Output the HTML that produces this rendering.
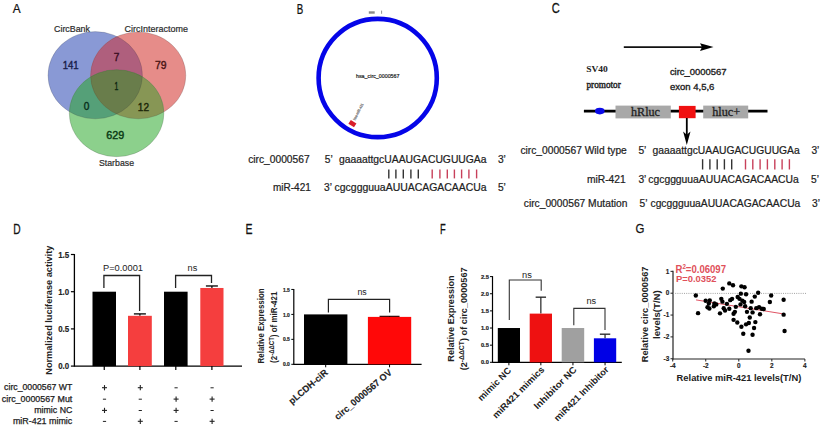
<!DOCTYPE html><html><head><meta charset="utf-8"><style>html,body{margin:0;padding:0;background:#fff;width:821px;height:430px;overflow:hidden}svg{display:block}</style></head><body>
<svg width="821" height="430" viewBox="0 0 821 430">
<rect width="821" height="430" fill="#fff"/>
<text x="0" y="0" font-size="13.663" fill="#111" font-weight="normal" font-family='"Liberation Sans", sans-serif' transform="translate(12.800 13.300) scale(0.8669 1)" stroke="#111" stroke-width="0.25">A</text>
<text x="0" y="0" font-size="13.808" fill="#111" font-weight="normal" font-family='"Liberation Sans", sans-serif' transform="translate(296.800 13.500) scale(0.7058 1)" stroke="#111" stroke-width="0.25">B</text>
<text x="0" y="0" font-size="13.842" fill="#111" font-weight="normal" font-family='"Liberation Sans", sans-serif' transform="translate(551.800 13.362) scale(0.8005 1)" stroke="#111" stroke-width="0.25">C</text>
<text x="0" y="0" font-size="13.808" fill="#111" font-weight="normal" font-family='"Liberation Sans", sans-serif' transform="translate(13.300 233.700) scale(0.7423 1)" stroke="#111" stroke-width="0.25">D</text>
<text x="0" y="0" font-size="14.244" fill="#111" font-weight="normal" font-family='"Liberation Sans", sans-serif' transform="translate(245.600 234.000) scale(0.7368 1)" stroke="#111" stroke-width="0.25">E</text>
<text x="0" y="0" font-size="13.808" fill="#111" font-weight="normal" font-family='"Liberation Sans", sans-serif' transform="translate(440.000 233.700) scale(0.6756 1)" stroke="#111" stroke-width="0.25">F</text>
<text x="0" y="0" font-size="13.418" fill="#111" font-weight="normal" font-family='"Liberation Sans", sans-serif' transform="translate(635.400 233.266) scale(0.8526 1)" stroke="#111" stroke-width="0.25">G</text>
<defs>
<clipPath id="cB"><ellipse cx="95.2" cy="75.2" rx="47.2" ry="43.6"/></clipPath>
<clipPath id="cR"><ellipse cx="138.2" cy="75.4" rx="47.6" ry="43.4"/></clipPath>
<clipPath id="cRB" clip-path="url(#cB)"><ellipse cx="138.2" cy="75.4" rx="47.6" ry="43.4"/></clipPath>
</defs>
<ellipse cx="95.2" cy="75.2" rx="47.2" ry="43.6" fill="rgb(137,153,213)" stroke="none" stroke-width="0"/>
<ellipse cx="138.2" cy="75.4" rx="47.6" ry="43.4" fill="rgb(230,140,137)" stroke="none" stroke-width="0"/>
<ellipse cx="116.6" cy="113.2" rx="47.3" ry="43.5" fill="rgb(140,208,140)" stroke="none" stroke-width="0"/>
<ellipse cx="138.2" cy="75.4" rx="47.6" ry="43.4" fill="rgb(175,95,125)" stroke="none" stroke-width="0" clip-path="url(#cB)"/>
<ellipse cx="116.6" cy="113.2" rx="47.3" ry="43.5" fill="rgb(85,160,120)" stroke="none" stroke-width="0" clip-path="url(#cB)"/>
<ellipse cx="116.6" cy="113.2" rx="47.3" ry="43.5" fill="rgb(135,150,85)" stroke="none" stroke-width="0" clip-path="url(#cR)"/>
<ellipse cx="116.6" cy="113.2" rx="47.3" ry="43.5" fill="rgb(105,125,75)" stroke="none" stroke-width="0" clip-path="url(#cRB)"/>
<ellipse cx="95.2" cy="75.2" rx="47.2" ry="43.6" fill="none" stroke="rgba(60,60,60,0.25)" stroke-width="0.8"/>
<ellipse cx="138.2" cy="75.4" rx="47.6" ry="43.4" fill="none" stroke="rgba(60,60,60,0.25)" stroke-width="0.8"/>
<ellipse cx="116.6" cy="113.2" rx="47.3" ry="43.5" fill="none" stroke="rgba(60,60,60,0.25)" stroke-width="0.8"/>
<text x="54.00" y="32.00" font-size="9" fill="#2a2a2a" font-weight="normal" text-anchor="start" font-family='"Liberation Sans", sans-serif' textLength="36.00" lengthAdjust="spacingAndGlyphs" stroke="#2a2a2a" stroke-width="0.2">CircBank</text>
<text x="124.60" y="31.50" font-size="9" fill="#2a2a2a" font-weight="normal" text-anchor="start" font-family='"Liberation Sans", sans-serif' textLength="63.30" lengthAdjust="spacingAndGlyphs" stroke="#2a2a2a" stroke-width="0.2">CircInteractome</text>
<text x="99.00" y="165.90" font-size="9.5" fill="#2a2a2a" font-weight="normal" text-anchor="start" font-family='"Liberation Sans", sans-serif' textLength="35.00" lengthAdjust="spacingAndGlyphs" stroke="#2a2a2a" stroke-width="0.2">Starbase</text>
<text x="62.70" y="69.30" font-size="10.3" fill="#18204a" font-weight="normal" text-anchor="start" font-family='"Liberation Sans", sans-serif' textLength="16.00" lengthAdjust="spacingAndGlyphs" stroke="#18204a" stroke-width="0.4">141</text>
<text x="113.80" y="61.40" font-size="10.3" fill="#3a0c22" font-weight="normal" text-anchor="start" font-family='"Liberation Sans", sans-serif' textLength="5.60" lengthAdjust="spacingAndGlyphs" stroke="#3a0c22" stroke-width="0.4">7</text>
<text x="155.00" y="68.60" font-size="10.3" fill="#4a1414" font-weight="normal" text-anchor="start" font-family='"Liberation Sans", sans-serif' textLength="11.50" lengthAdjust="spacingAndGlyphs" stroke="#4a1414" stroke-width="0.4">79</text>
<text x="114.60" y="90.10" font-size="10.3" fill="#0c2610" font-weight="normal" text-anchor="start" font-family='"Liberation Sans", sans-serif' textLength="3.80" lengthAdjust="spacingAndGlyphs" stroke="#0c2610" stroke-width="0.4">1</text>
<text x="83.80" y="110.00" font-size="10.3" fill="#08301c" font-weight="normal" text-anchor="start" font-family='"Liberation Sans", sans-serif' textLength="5.60" lengthAdjust="spacingAndGlyphs" stroke="#08301c" stroke-width="0.4">0</text>
<text x="137.80" y="110.50" font-size="10.3" fill="#1c2608" font-weight="normal" text-anchor="start" font-family='"Liberation Sans", sans-serif' textLength="11.20" lengthAdjust="spacingAndGlyphs" stroke="#1c2608" stroke-width="0.4">12</text>
<text x="106.20" y="138.80" font-size="10.3" fill="#0a3a14" font-weight="normal" text-anchor="start" font-family='"Liberation Sans", sans-serif' textLength="18.00" lengthAdjust="spacingAndGlyphs" stroke="#0a3a14" stroke-width="0.4">629</text>
<circle cx="377.7" cy="78" r="59.1" fill="none" stroke="#0505e8" stroke-width="4.6"/>
<text x="356.00" y="78.30" font-size="5.5" fill="#222" font-weight="normal" text-anchor="start" font-family='"Liberation Sans", sans-serif' textLength="43.50" lengthAdjust="spacingAndGlyphs" stroke="#222" stroke-width="0.2">hsa_circ_0000567</text>
<rect x="368.8" y="11.3" width="5.9" height="2.4" fill="#8a8a8a"/>
<line x1="381.60" y1="10.60" x2="381.60" y2="13.80" stroke="#888" stroke-width="0.9" />
<rect x="349.1" y="121.3" width="6.6" height="4.6" fill="#d81e2a" transform="rotate(32 352.4 123.6)"/>
<text x="355.20" y="120.60" font-size="3.6" fill="#777" font-weight="normal" text-anchor="start" font-family='"Liberation Sans", sans-serif' textLength="18.50" lengthAdjust="spacingAndGlyphs" transform="rotate(-63 355.20 120.60)" stroke="#888" stroke-width="0.3">hsa-miR-421</text>
<text x="248.20" y="162.50" font-size="10.2" fill="#222" font-weight="normal" text-anchor="start" font-family='"Liberation Sans", sans-serif' textLength="61.40" lengthAdjust="spacingAndGlyphs" stroke="#222" stroke-width="0.22">circ_0000567</text>
<text x="324.80" y="162.50" font-size="10.2" fill="#222" font-weight="normal" text-anchor="start" font-family='"Liberation Sans", sans-serif' stroke="#222" stroke-width="0.22">5’</text>
<text x="338.90" y="162.50" font-size="10.2" fill="#222" font-weight="normal" text-anchor="start" font-family='"Liberation Sans", sans-serif' textLength="147.60" lengthAdjust="spacingAndGlyphs" stroke="#222" stroke-width="0.22">gaaaattgcUAAUGACUGUUGAa</text>
<text x="497.90" y="162.50" font-size="10.2" fill="#222" font-weight="normal" text-anchor="start" font-family='"Liberation Sans", sans-serif' stroke="#222" stroke-width="0.22">3’</text>
<text x="272.90" y="191.00" font-size="10.2" fill="#222" font-weight="normal" text-anchor="start" font-family='"Liberation Sans", sans-serif' textLength="37.90" lengthAdjust="spacingAndGlyphs" stroke="#222" stroke-width="0.22">miR-421</text>
<text x="324.10" y="191.00" font-size="10.2" fill="#222" font-weight="normal" text-anchor="start" font-family='"Liberation Sans", sans-serif' stroke="#222" stroke-width="0.22">3’</text>
<text x="334.60" y="191.00" font-size="10.2" fill="#222" font-weight="normal" text-anchor="start" font-family='"Liberation Sans", sans-serif' textLength="152.00" lengthAdjust="spacingAndGlyphs" stroke="#222" stroke-width="0.22">cgcggguuaAUUACAGACAACUa</text>
<text x="497.90" y="191.00" font-size="10.2" fill="#222" font-weight="normal" text-anchor="start" font-family='"Liberation Sans", sans-serif' stroke="#222" stroke-width="0.22">5’</text>
<line x1="388.80" y1="169.50" x2="388.80" y2="178.40" stroke="#333" stroke-width="1.4" />
<line x1="395.90" y1="169.50" x2="395.90" y2="178.40" stroke="#333" stroke-width="1.4" />
<line x1="403.30" y1="169.50" x2="403.30" y2="178.40" stroke="#333" stroke-width="1.4" />
<line x1="410.90" y1="169.50" x2="410.90" y2="178.40" stroke="#333" stroke-width="1.4" />
<line x1="418.30" y1="169.50" x2="418.30" y2="178.40" stroke="#333" stroke-width="1.4" />
<line x1="432.20" y1="169.50" x2="432.20" y2="178.40" stroke="#c8405a" stroke-width="1.4" />
<line x1="439.90" y1="169.50" x2="439.90" y2="178.40" stroke="#c8405a" stroke-width="1.4" />
<line x1="447.30" y1="169.50" x2="447.30" y2="178.40" stroke="#c8405a" stroke-width="1.4" />
<line x1="454.40" y1="169.50" x2="454.40" y2="178.40" stroke="#c8405a" stroke-width="1.4" />
<line x1="461.60" y1="169.50" x2="461.60" y2="178.40" stroke="#c8405a" stroke-width="1.4" />
<line x1="468.90" y1="169.50" x2="468.90" y2="178.40" stroke="#c8405a" stroke-width="1.4" />
<line x1="476.60" y1="169.50" x2="476.60" y2="178.40" stroke="#c8405a" stroke-width="1.4" />
<line x1="623.80" y1="47.10" x2="703.00" y2="47.10" stroke="#111" stroke-width="1.8" />
<polygon points="713.5,47.1 700,43.3 702,47.1 700,50.9" fill="#000"/>
<text x="586.20" y="71.50" font-size="8.4" fill="#222" font-weight="bold" text-anchor="start" font-family='"Liberation Serif", serif' textLength="21.60" lengthAdjust="spacingAndGlyphs" >SV40</text>
<text x="586.50" y="88.10" font-size="10.4" fill="#222" font-weight="normal" text-anchor="start" font-family='"Liberation Serif", serif' textLength="34.20" lengthAdjust="spacingAndGlyphs" stroke="#222" stroke-width="0.45">promotor</text>
<text x="669.90" y="74.60" font-size="9.3" fill="#222" font-weight="normal" text-anchor="start" font-family='"Liberation Sans", sans-serif' textLength="56.70" lengthAdjust="spacingAndGlyphs" stroke="#222" stroke-width="0.35">circ_0000567</text>
<text x="669.90" y="89.90" font-size="9.3" fill="#222" font-weight="normal" text-anchor="start" font-family='"Liberation Sans", sans-serif' textLength="44.50" lengthAdjust="spacingAndGlyphs" stroke="#222" stroke-width="0.35">exon 4,5,6</text>
<line x1="583.90" y1="111.10" x2="767.50" y2="111.10" stroke="#000" stroke-width="2.8" />
<ellipse cx="599.8" cy="111.1" rx="4.8" ry="3.3" fill="#0a0ae8"/>
<rect x="615.50" y="105.60" width="55.30" height="12.80" fill="#a8a8a8"/>
<rect x="678.90" y="105.90" width="16.70" height="12.30" fill="#f01010"/>
<rect x="703.20" y="105.60" width="45.00" height="12.80" fill="#a8a8a8"/>
<text x="631.00" y="116.20" font-size="12.3" fill="#222" font-weight="normal" text-anchor="start" font-family='"Liberation Serif", serif' textLength="29.00" lengthAdjust="spacingAndGlyphs" stroke="#222" stroke-width="0.3">hRluc</text>
<text x="712.20" y="116.20" font-size="12.3" fill="#222" font-weight="normal" text-anchor="start" font-family='"Liberation Serif", serif' textLength="28.00" lengthAdjust="spacingAndGlyphs" stroke="#222" stroke-width="0.3">hluc+</text>
<line x1="686.80" y1="118.00" x2="686.80" y2="136.00" stroke="#000" stroke-width="1.8" />
<polygon points="686.8,145 683.1,131.5 686.8,134.8 690.5,131.5" fill="#000"/>
<text x="520.40" y="153.70" font-size="10.2" fill="#222" font-weight="normal" text-anchor="start" font-family='"Liberation Sans", sans-serif' textLength="106.40" lengthAdjust="spacingAndGlyphs" stroke="#222" stroke-width="0.22">circ_0000567 Wild type</text>
<text x="638.40" y="153.70" font-size="10.2" fill="#222" font-weight="normal" text-anchor="start" font-family='"Liberation Sans", sans-serif' stroke="#222" stroke-width="0.22">5’</text>
<text x="652.60" y="153.70" font-size="10.2" fill="#222" font-weight="normal" text-anchor="start" font-family='"Liberation Sans", sans-serif' textLength="147.10" lengthAdjust="spacingAndGlyphs" stroke="#222" stroke-width="0.22">gaaaattgcUAAUGACUGUUGAa</text>
<text x="811.40" y="153.70" font-size="10.2" fill="#222" font-weight="normal" text-anchor="start" font-family='"Liberation Sans", sans-serif' stroke="#222" stroke-width="0.22">3’</text>
<text x="586.90" y="182.90" font-size="10.2" fill="#222" font-weight="normal" text-anchor="start" font-family='"Liberation Sans", sans-serif' textLength="38.80" lengthAdjust="spacingAndGlyphs" stroke="#222" stroke-width="0.22">miR-421</text>
<text x="638.40" y="182.90" font-size="10.2" fill="#222" font-weight="normal" text-anchor="start" font-family='"Liberation Sans", sans-serif' stroke="#222" stroke-width="0.22">3’</text>
<text x="648.30" y="182.90" font-size="10.2" fill="#222" font-weight="normal" text-anchor="start" font-family='"Liberation Sans", sans-serif' textLength="150.50" lengthAdjust="spacingAndGlyphs" stroke="#222" stroke-width="0.22">cgcggguuaAUUACAGACAACUa</text>
<text x="811.00" y="182.90" font-size="10.2" fill="#222" font-weight="normal" text-anchor="start" font-family='"Liberation Sans", sans-serif' stroke="#222" stroke-width="0.22">5’</text>
<text x="523.80" y="207.20" font-size="10.2" fill="#222" font-weight="normal" text-anchor="start" font-family='"Liberation Sans", sans-serif' textLength="103.60" lengthAdjust="spacingAndGlyphs" stroke="#222" stroke-width="0.22">circ_0000567 Mutation</text>
<text x="639.50" y="207.20" font-size="10.2" fill="#222" font-weight="normal" text-anchor="start" font-family='"Liberation Sans", sans-serif' stroke="#222" stroke-width="0.22">5’</text>
<text x="650.50" y="207.20" font-size="10.2" fill="#222" font-weight="normal" text-anchor="start" font-family='"Liberation Sans", sans-serif' textLength="149.80" lengthAdjust="spacingAndGlyphs" stroke="#222" stroke-width="0.22">cgcggguuaAUUACAGACAACUa</text>
<text x="812.00" y="207.20" font-size="10.2" fill="#222" font-weight="normal" text-anchor="start" font-family='"Liberation Sans", sans-serif' stroke="#222" stroke-width="0.22">3’</text>
<line x1="702.60" y1="159.20" x2="702.60" y2="169.50" stroke="#333" stroke-width="1.4" />
<line x1="709.90" y1="159.20" x2="709.90" y2="169.50" stroke="#333" stroke-width="1.4" />
<line x1="717.20" y1="159.20" x2="717.20" y2="169.50" stroke="#333" stroke-width="1.4" />
<line x1="724.40" y1="159.20" x2="724.40" y2="169.50" stroke="#333" stroke-width="1.4" />
<line x1="731.70" y1="159.20" x2="731.70" y2="169.50" stroke="#333" stroke-width="1.4" />
<line x1="745.50" y1="159.20" x2="745.50" y2="169.50" stroke="#c8405a" stroke-width="1.4" />
<line x1="752.80" y1="159.20" x2="752.80" y2="169.50" stroke="#c8405a" stroke-width="1.4" />
<line x1="760.10" y1="159.20" x2="760.10" y2="169.50" stroke="#c8405a" stroke-width="1.4" />
<line x1="767.40" y1="159.20" x2="767.40" y2="169.50" stroke="#c8405a" stroke-width="1.4" />
<line x1="774.80" y1="159.20" x2="774.80" y2="169.50" stroke="#c8405a" stroke-width="1.4" />
<line x1="782.10" y1="159.20" x2="782.10" y2="169.50" stroke="#c8405a" stroke-width="1.4" />
<line x1="789.40" y1="159.20" x2="789.40" y2="169.50" stroke="#c8405a" stroke-width="1.4" />
<line x1="74.40" y1="254.00" x2="74.40" y2="366.70" stroke="#000" stroke-width="1.3" />
<line x1="74.40" y1="366.10" x2="242.00" y2="366.10" stroke="#000" stroke-width="1.4" />
<line x1="70.90" y1="366.10" x2="74.40" y2="366.10" stroke="#000" stroke-width="1.2" />
<text x="69.20" y="369.10" font-size="8.6" fill="#222" font-weight="bold" text-anchor="end" font-family='"Liberation Sans", sans-serif' textLength="11.00" lengthAdjust="spacingAndGlyphs" stroke="#222" stroke-width="0.15">0.0</text>
<line x1="70.90" y1="328.90" x2="74.40" y2="328.90" stroke="#000" stroke-width="1.2" />
<text x="69.20" y="331.90" font-size="8.6" fill="#222" font-weight="bold" text-anchor="end" font-family='"Liberation Sans", sans-serif' textLength="11.00" lengthAdjust="spacingAndGlyphs" stroke="#222" stroke-width="0.15">0.5</text>
<line x1="70.90" y1="291.70" x2="74.40" y2="291.70" stroke="#000" stroke-width="1.2" />
<text x="69.20" y="294.70" font-size="8.6" fill="#222" font-weight="bold" text-anchor="end" font-family='"Liberation Sans", sans-serif' textLength="11.00" lengthAdjust="spacingAndGlyphs" stroke="#222" stroke-width="0.15">1.0</text>
<line x1="70.90" y1="254.50" x2="74.40" y2="254.50" stroke="#000" stroke-width="1.2" />
<text x="69.20" y="257.50" font-size="8.6" fill="#222" font-weight="bold" text-anchor="end" font-family='"Liberation Sans", sans-serif' textLength="11.00" lengthAdjust="spacingAndGlyphs" stroke="#222" stroke-width="0.15">1.5</text>
<rect x="92.50" y="291.70" width="23.50" height="74.40" fill="#000"/>
<line x1="104.25" y1="366.10" x2="104.25" y2="370.10" stroke="#000" stroke-width="1.2" />
<line x1="139.90" y1="315.81" x2="139.90" y2="313.90" stroke="#000" stroke-width="1.2" />
<line x1="133.90" y1="313.90" x2="145.90" y2="313.90" stroke="#000" stroke-width="1.3" />
<rect x="128.00" y="315.81" width="23.80" height="50.29" fill="#f53e3e"/>
<line x1="139.90" y1="366.10" x2="139.90" y2="370.10" stroke="#000" stroke-width="1.2" />
<rect x="164.00" y="291.70" width="23.60" height="74.40" fill="#000"/>
<line x1="175.80" y1="366.10" x2="175.80" y2="370.10" stroke="#000" stroke-width="1.2" />
<line x1="211.90" y1="287.98" x2="211.90" y2="285.97" stroke="#000" stroke-width="1.2" />
<line x1="205.90" y1="285.97" x2="217.90" y2="285.97" stroke="#000" stroke-width="1.3" />
<rect x="200.30" y="287.98" width="23.20" height="78.12" fill="#f53e3e"/>
<line x1="211.90" y1="366.10" x2="211.90" y2="370.10" stroke="#000" stroke-width="1.2" />
<polyline points="103.90,288.00 103.90,275.50 139.60,275.50 139.60,311.00" stroke="#222" stroke-width="1.3" fill="none" stroke-linejoin="miter"/>
<polyline points="175.60,288.00 175.60,275.50 211.50,275.50 211.50,283.00" stroke="#222" stroke-width="1.3" fill="none" stroke-linejoin="miter"/>
<text x="103.00" y="271.00" font-size="9.2" fill="#222" font-weight="normal" text-anchor="start" font-family='"Liberation Sans", sans-serif' textLength="40.00" lengthAdjust="spacingAndGlyphs" >P=0.0001</text>
<text x="187.60" y="271.00" font-size="9.2" fill="#222" font-weight="normal" text-anchor="start" font-family='"Liberation Sans", sans-serif' textLength="9.70" lengthAdjust="spacingAndGlyphs" >ns</text>
<text x="52.40" y="310.20" font-size="9" fill="#222" font-weight="bold" text-anchor="middle" font-family='"Liberation Sans", sans-serif' textLength="129.00" lengthAdjust="spacingAndGlyphs" transform="rotate(-90 52.40 310.20)" >Normalized luciferase activity</text>
<text x="72.30" y="390.40" font-size="8.6" fill="#222" font-weight="normal" text-anchor="end" font-family='"Liberation Sans", sans-serif' textLength="68.20" lengthAdjust="spacingAndGlyphs" stroke="#222" stroke-width="0.25">circ_0000567 WT</text>
<line x1="102.00" y1="387.70" x2="107.00" y2="387.70" stroke="#222" stroke-width="1.1" />
<line x1="104.50" y1="385.10" x2="104.50" y2="390.30" stroke="#222" stroke-width="1.1" />
<line x1="137.80" y1="387.70" x2="142.80" y2="387.70" stroke="#222" stroke-width="1.1" />
<line x1="140.30" y1="385.10" x2="140.30" y2="390.30" stroke="#222" stroke-width="1.1" />
<line x1="174.50" y1="387.80" x2="177.70" y2="387.80" stroke="#222" stroke-width="1" />
<line x1="210.50" y1="387.80" x2="213.70" y2="387.80" stroke="#222" stroke-width="1" />
<text x="72.30" y="401.80" font-size="8.6" fill="#222" font-weight="normal" text-anchor="end" font-family='"Liberation Sans", sans-serif' textLength="70.50" lengthAdjust="spacingAndGlyphs" stroke="#222" stroke-width="0.25">circ_0000567 Mut</text>
<line x1="102.90" y1="399.20" x2="106.10" y2="399.20" stroke="#222" stroke-width="1" />
<line x1="138.70" y1="399.20" x2="141.90" y2="399.20" stroke="#222" stroke-width="1" />
<line x1="173.60" y1="399.10" x2="178.60" y2="399.10" stroke="#222" stroke-width="1.1" />
<line x1="176.10" y1="396.50" x2="176.10" y2="401.70" stroke="#222" stroke-width="1.1" />
<line x1="209.60" y1="399.10" x2="214.60" y2="399.10" stroke="#222" stroke-width="1.1" />
<line x1="212.10" y1="396.50" x2="212.10" y2="401.70" stroke="#222" stroke-width="1.1" />
<text x="72.30" y="413.10" font-size="8.6" fill="#222" font-weight="normal" text-anchor="end" font-family='"Liberation Sans", sans-serif' textLength="38.00" lengthAdjust="spacingAndGlyphs" stroke="#222" stroke-width="0.25">mimic NC</text>
<line x1="102.00" y1="410.40" x2="107.00" y2="410.40" stroke="#222" stroke-width="1.1" />
<line x1="104.50" y1="407.80" x2="104.50" y2="413.00" stroke="#222" stroke-width="1.1" />
<line x1="138.70" y1="410.50" x2="141.90" y2="410.50" stroke="#222" stroke-width="1" />
<line x1="173.60" y1="410.40" x2="178.60" y2="410.40" stroke="#222" stroke-width="1.1" />
<line x1="176.10" y1="407.80" x2="176.10" y2="413.00" stroke="#222" stroke-width="1.1" />
<line x1="210.50" y1="410.50" x2="213.70" y2="410.50" stroke="#222" stroke-width="1" />
<text x="72.30" y="424.00" font-size="8.6" fill="#222" font-weight="normal" text-anchor="end" font-family='"Liberation Sans", sans-serif' textLength="59.40" lengthAdjust="spacingAndGlyphs" stroke="#222" stroke-width="0.25">miR-421 mimic</text>
<line x1="102.90" y1="421.40" x2="106.10" y2="421.40" stroke="#222" stroke-width="1" />
<line x1="137.80" y1="421.30" x2="142.80" y2="421.30" stroke="#222" stroke-width="1.1" />
<line x1="140.30" y1="418.70" x2="140.30" y2="423.90" stroke="#222" stroke-width="1.1" />
<line x1="174.50" y1="421.40" x2="177.70" y2="421.40" stroke="#222" stroke-width="1" />
<line x1="209.60" y1="421.30" x2="214.60" y2="421.30" stroke="#222" stroke-width="1.1" />
<line x1="212.10" y1="418.70" x2="212.10" y2="423.90" stroke="#222" stroke-width="1.1" />
<line x1="293.80" y1="288.95" x2="293.80" y2="364.90" stroke="#000" stroke-width="1.2" />
<line x1="293.80" y1="364.30" x2="421.60" y2="364.30" stroke="#000" stroke-width="1.2" />
<line x1="291.30" y1="364.30" x2="293.80" y2="364.30" stroke="#000" stroke-width="1" />
<text x="289.90" y="366.40" font-size="6.2" fill="#222" font-weight="bold" text-anchor="end" font-family='"Liberation Sans", sans-serif' textLength="7.00" lengthAdjust="spacingAndGlyphs" stroke="#222" stroke-width="0.2">0.0</text>
<line x1="291.30" y1="339.35" x2="293.80" y2="339.35" stroke="#000" stroke-width="1" />
<text x="289.90" y="341.45" font-size="6.2" fill="#222" font-weight="bold" text-anchor="end" font-family='"Liberation Sans", sans-serif' textLength="7.00" lengthAdjust="spacingAndGlyphs" stroke="#222" stroke-width="0.2">0.5</text>
<line x1="291.30" y1="314.40" x2="293.80" y2="314.40" stroke="#000" stroke-width="1" />
<text x="289.90" y="316.50" font-size="6.2" fill="#222" font-weight="bold" text-anchor="end" font-family='"Liberation Sans", sans-serif' textLength="7.00" lengthAdjust="spacingAndGlyphs" stroke="#222" stroke-width="0.2">1.0</text>
<line x1="291.30" y1="289.45" x2="293.80" y2="289.45" stroke="#000" stroke-width="1" />
<text x="289.90" y="291.55" font-size="6.2" fill="#222" font-weight="bold" text-anchor="end" font-family='"Liberation Sans", sans-serif' textLength="7.00" lengthAdjust="spacingAndGlyphs" stroke="#222" stroke-width="0.2">1.5</text>
<rect x="304.00" y="314.40" width="43.40" height="49.90" fill="#000"/>
<line x1="325.70" y1="364.30" x2="325.70" y2="367.30" stroke="#000" stroke-width="1" />
<line x1="379.55" y1="316.35" x2="399.55" y2="316.35" stroke="#200" stroke-width="1.2" />
<line x1="389.55" y1="316.90" x2="389.55" y2="316.35" stroke="#000" stroke-width="1.1" />
<rect x="367.90" y="316.90" width="43.30" height="47.40" fill="#ff0808"/>
<line x1="389.55" y1="364.30" x2="389.55" y2="367.30" stroke="#000" stroke-width="1" />
<polyline points="328.40,312.40 328.40,299.40 389.60,299.40 389.60,312.50" stroke="#222" stroke-width="1.2" fill="none" stroke-linejoin="miter"/>
<text x="357.40" y="295.00" font-size="8.5" fill="#222" font-weight="normal" text-anchor="start" font-family='"Liberation Sans", sans-serif' textLength="9.30" lengthAdjust="spacingAndGlyphs" >ns</text>
<text x="264.30" y="325.90" font-size="8.3" fill="#222" font-weight="bold" text-anchor="middle" font-family='"Liberation Sans", sans-serif' textLength="75.00" lengthAdjust="spacingAndGlyphs" transform="rotate(-90 264.30 325.90)" >Relative Expression</text>
<text x="277.2" y="327.3" font-size="8.3" fill="#222" font-weight="bold" text-anchor="middle" font-family='"Liberation Sans", sans-serif' transform="rotate(-90 277.2 327.3)" textLength="71.3" lengthAdjust="spacingAndGlyphs">(2<tspan font-size="6.3" dy="-3.2">-ΔΔCT</tspan><tspan dy="3.2">) of miR-421</tspan></text>
<text x="328.50" y="373.50" font-size="9.3" fill="#222" font-weight="bold" text-anchor="end" font-family='"Liberation Sans", sans-serif' textLength="48.00" lengthAdjust="spacingAndGlyphs" transform="rotate(-40.5 328.50 373.50)" stroke="#222" stroke-width="0.15">pLCDH-ciR</text>
<text x="392.50" y="373.50" font-size="9.3" fill="#222" font-weight="bold" text-anchor="end" font-family='"Liberation Sans", sans-serif' textLength="72.00" lengthAdjust="spacingAndGlyphs" transform="rotate(-40.5 392.50 373.50)" stroke="#222" stroke-width="0.15">circ_0000567 OV</text>
<line x1="492.50" y1="276.10" x2="492.50" y2="362.90" stroke="#000" stroke-width="1.2" />
<line x1="492.50" y1="362.30" x2="621.80" y2="362.30" stroke="#000" stroke-width="1.2" />
<line x1="490.00" y1="362.30" x2="492.50" y2="362.30" stroke="#000" stroke-width="1" />
<text x="488.90" y="364.40" font-size="6.2" fill="#222" font-weight="bold" text-anchor="end" font-family='"Liberation Sans", sans-serif' textLength="8.00" lengthAdjust="spacingAndGlyphs" stroke="#222" stroke-width="0.2">0.0</text>
<line x1="490.00" y1="345.16" x2="492.50" y2="345.16" stroke="#000" stroke-width="1" />
<text x="488.90" y="347.26" font-size="6.2" fill="#222" font-weight="bold" text-anchor="end" font-family='"Liberation Sans", sans-serif' textLength="8.00" lengthAdjust="spacingAndGlyphs" stroke="#222" stroke-width="0.2">0.5</text>
<line x1="490.00" y1="328.02" x2="492.50" y2="328.02" stroke="#000" stroke-width="1" />
<text x="488.90" y="330.12" font-size="6.2" fill="#222" font-weight="bold" text-anchor="end" font-family='"Liberation Sans", sans-serif' textLength="8.00" lengthAdjust="spacingAndGlyphs" stroke="#222" stroke-width="0.2">1.0</text>
<line x1="490.00" y1="310.88" x2="492.50" y2="310.88" stroke="#000" stroke-width="1" />
<text x="488.90" y="312.98" font-size="6.2" fill="#222" font-weight="bold" text-anchor="end" font-family='"Liberation Sans", sans-serif' textLength="8.00" lengthAdjust="spacingAndGlyphs" stroke="#222" stroke-width="0.2">1.5</text>
<line x1="490.00" y1="293.74" x2="492.50" y2="293.74" stroke="#000" stroke-width="1" />
<text x="488.90" y="295.84" font-size="6.2" fill="#222" font-weight="bold" text-anchor="end" font-family='"Liberation Sans", sans-serif' textLength="8.00" lengthAdjust="spacingAndGlyphs" stroke="#222" stroke-width="0.2">2.0</text>
<line x1="490.00" y1="276.60" x2="492.50" y2="276.60" stroke="#000" stroke-width="1" />
<text x="488.90" y="278.70" font-size="6.2" fill="#222" font-weight="bold" text-anchor="end" font-family='"Liberation Sans", sans-serif' textLength="8.00" lengthAdjust="spacingAndGlyphs" stroke="#222" stroke-width="0.2">2.5</text>
<rect x="497.80" y="328.02" width="22.20" height="34.28" fill="#000"/>
<line x1="508.90" y1="362.30" x2="508.90" y2="365.30" stroke="#000" stroke-width="1" />
<line x1="540.85" y1="313.62" x2="540.85" y2="297.17" stroke="#222" stroke-width="1.2" />
<line x1="535.65" y1="297.17" x2="546.05" y2="297.17" stroke="#222" stroke-width="1.3" />
<rect x="529.70" y="313.62" width="22.30" height="48.68" fill="#ee1111"/>
<line x1="540.85" y1="362.30" x2="540.85" y2="365.30" stroke="#000" stroke-width="1" />
<rect x="561.70" y="328.02" width="22.50" height="34.28" fill="#a0a0a0"/>
<line x1="572.95" y1="362.30" x2="572.95" y2="365.30" stroke="#000" stroke-width="1" />
<line x1="605.05" y1="338.30" x2="605.05" y2="334.19" stroke="#222" stroke-width="1.2" />
<line x1="599.85" y1="334.19" x2="610.25" y2="334.19" stroke="#222" stroke-width="1.3" />
<rect x="593.90" y="338.30" width="22.30" height="24.00" fill="#0000e6"/>
<line x1="605.05" y1="362.30" x2="605.05" y2="365.30" stroke="#000" stroke-width="1" />
<polyline points="509.30,320.00 509.30,280.00 541.20,280.00 541.20,290.70" stroke="#333" stroke-width="1.1" fill="none" stroke-linejoin="miter"/>
<polyline points="573.80,325.30 573.80,308.40 605.00,308.40 605.00,330.00" stroke="#333" stroke-width="1.1" fill="none" stroke-linejoin="miter"/>
<text x="522.00" y="277.90" font-size="8.5" fill="#222" font-weight="normal" text-anchor="start" font-family='"Liberation Sans", sans-serif' textLength="9.80" lengthAdjust="spacingAndGlyphs" >ns</text>
<text x="586.50" y="304.20" font-size="8.5" fill="#222" font-weight="normal" text-anchor="start" font-family='"Liberation Sans", sans-serif' textLength="9.70" lengthAdjust="spacingAndGlyphs" >ns</text>
<text x="454.30" y="318.50" font-size="9.2" fill="#222" font-weight="bold" text-anchor="middle" font-family='"Liberation Sans", sans-serif' textLength="86.30" lengthAdjust="spacingAndGlyphs" transform="rotate(-90 454.30 318.50)" >Relative Expression</text>
<text x="467.2" y="318.9" font-size="9.2" fill="#222" font-weight="bold" text-anchor="middle" font-family='"Liberation Sans", sans-serif' transform="rotate(-90 467.2 318.9)" textLength="102.9" lengthAdjust="spacingAndGlyphs">(2<tspan font-size="6.9" dy="-3.6">-ΔΔCT</tspan><tspan dy="3.6">) of circ_0000567</tspan></text>
<text x="511.90" y="371.10" font-size="9.2" fill="#222" font-weight="bold" text-anchor="end" font-family='"Liberation Sans", sans-serif' textLength="43.00" lengthAdjust="spacingAndGlyphs" transform="rotate(-45 511.90 371.10)" >mimic NC</text>
<text x="545.00" y="370.20" font-size="9.2" fill="#222" font-weight="bold" text-anchor="end" font-family='"Liberation Sans", sans-serif' textLength="69.00" lengthAdjust="spacingAndGlyphs" transform="rotate(-45 545.00 370.20)" >miR421 mimics</text>
<text x="577.20" y="370.20" font-size="9.2" fill="#222" font-weight="bold" text-anchor="end" font-family='"Liberation Sans", sans-serif' textLength="56.00" lengthAdjust="spacingAndGlyphs" transform="rotate(-45 577.20 370.20)" >Inhibitor NC</text>
<text x="609.40" y="370.20" font-size="9.2" fill="#222" font-weight="bold" text-anchor="end" font-family='"Liberation Sans", sans-serif' textLength="73.00" lengthAdjust="spacingAndGlyphs" transform="rotate(-45 609.40 370.20)" >miR421 Inhibitor</text>
<line x1="673.00" y1="270.85" x2="673.00" y2="359.60" stroke="#222" stroke-width="1.2" />
<line x1="673.00" y1="359.00" x2="804.90" y2="359.00" stroke="#222" stroke-width="1.2" />
<line x1="670.50" y1="271.35" x2="673.00" y2="271.35" stroke="#222" stroke-width="1" />
<text x="669.30" y="273.55" font-size="6.4" fill="#222" font-weight="bold" text-anchor="end" font-family='"Liberation Sans", sans-serif' stroke="#222" stroke-width="0.15">1</text>
<line x1="670.50" y1="293.20" x2="673.00" y2="293.20" stroke="#222" stroke-width="1" />
<text x="669.30" y="295.40" font-size="6.4" fill="#222" font-weight="bold" text-anchor="end" font-family='"Liberation Sans", sans-serif' stroke="#222" stroke-width="0.15">0</text>
<line x1="670.50" y1="315.05" x2="673.00" y2="315.05" stroke="#222" stroke-width="1" />
<text x="669.30" y="317.25" font-size="6.4" fill="#222" font-weight="bold" text-anchor="end" font-family='"Liberation Sans", sans-serif' stroke="#222" stroke-width="0.15">-1</text>
<line x1="670.50" y1="336.90" x2="673.00" y2="336.90" stroke="#222" stroke-width="1" />
<text x="669.30" y="339.10" font-size="6.4" fill="#222" font-weight="bold" text-anchor="end" font-family='"Liberation Sans", sans-serif' stroke="#222" stroke-width="0.15">-2</text>
<line x1="670.50" y1="358.75" x2="673.00" y2="358.75" stroke="#222" stroke-width="1" />
<text x="669.30" y="360.95" font-size="6.4" fill="#222" font-weight="bold" text-anchor="end" font-family='"Liberation Sans", sans-serif' stroke="#222" stroke-width="0.15">-3</text>
<line x1="672.72" y1="359.00" x2="672.72" y2="361.50" stroke="#222" stroke-width="1" />
<text x="672.72" y="368.30" font-size="6.4" fill="#222" font-weight="bold" text-anchor="middle" font-family='"Liberation Sans", sans-serif' stroke="#222" stroke-width="0.15">-4</text>
<line x1="705.76" y1="359.00" x2="705.76" y2="361.50" stroke="#222" stroke-width="1" />
<text x="705.76" y="368.30" font-size="6.4" fill="#222" font-weight="bold" text-anchor="middle" font-family='"Liberation Sans", sans-serif' stroke="#222" stroke-width="0.15">-2</text>
<line x1="738.80" y1="359.00" x2="738.80" y2="361.50" stroke="#222" stroke-width="1" />
<text x="738.80" y="368.30" font-size="6.4" fill="#222" font-weight="bold" text-anchor="middle" font-family='"Liberation Sans", sans-serif' stroke="#222" stroke-width="0.15">0</text>
<line x1="771.84" y1="359.00" x2="771.84" y2="361.50" stroke="#222" stroke-width="1" />
<text x="771.84" y="368.30" font-size="6.4" fill="#222" font-weight="bold" text-anchor="middle" font-family='"Liberation Sans", sans-serif' stroke="#222" stroke-width="0.15">2</text>
<line x1="804.88" y1="359.00" x2="804.88" y2="361.50" stroke="#222" stroke-width="1" />
<text x="804.88" y="368.30" font-size="6.4" fill="#222" font-weight="bold" text-anchor="middle" font-family='"Liberation Sans", sans-serif' stroke="#222" stroke-width="0.15">4</text>
<line x1="673.00" y1="293.40" x2="806.00" y2="293.40" stroke="#8a8a8a" stroke-width="0.8" stroke-dasharray="1 1.2"/>
<line x1="696.00" y1="299.90" x2="784.60" y2="314.10" stroke="#e05565" stroke-width="1.0" />
<circle cx="695.81" cy="295.49" r="2.2" fill="#000"/>
<circle cx="698.05" cy="313.16" r="2.2" fill="#000"/>
<circle cx="705.67" cy="300.70" r="2.2" fill="#000"/>
<circle cx="709.77" cy="300.33" r="2.2" fill="#000"/>
<circle cx="708.84" cy="303.49" r="2.2" fill="#000"/>
<circle cx="707.53" cy="307.21" r="2.2" fill="#000"/>
<circle cx="709.40" cy="308.51" r="2.2" fill="#000"/>
<circle cx="714.42" cy="303.49" r="2.2" fill="#000"/>
<circle cx="716.28" cy="304.42" r="2.2" fill="#000"/>
<circle cx="713.86" cy="306.28" r="2.2" fill="#000"/>
<circle cx="720.00" cy="313.35" r="2.2" fill="#000"/>
<circle cx="721.30" cy="298.84" r="2.2" fill="#000"/>
<circle cx="722.42" cy="301.63" r="2.2" fill="#000"/>
<circle cx="722.79" cy="288.60" r="2.2" fill="#000"/>
<circle cx="723.72" cy="308.14" r="2.2" fill="#000"/>
<circle cx="725.02" cy="310.56" r="2.2" fill="#000"/>
<circle cx="726.88" cy="303.86" r="2.2" fill="#000"/>
<circle cx="729.30" cy="308.70" r="2.2" fill="#000"/>
<circle cx="729.30" cy="283.40" r="2.2" fill="#000"/>
<circle cx="733.02" cy="285.26" r="2.2" fill="#000"/>
<circle cx="730.23" cy="300.14" r="2.2" fill="#000"/>
<circle cx="732.09" cy="298.84" r="2.2" fill="#000"/>
<circle cx="733.58" cy="313.72" r="2.2" fill="#000"/>
<circle cx="734.88" cy="311.86" r="2.2" fill="#000"/>
<circle cx="733.58" cy="319.86" r="2.2" fill="#000"/>
<circle cx="737.30" cy="322.47" r="2.2" fill="#000"/>
<circle cx="735.81" cy="306.84" r="2.2" fill="#000"/>
<circle cx="737.67" cy="296.98" r="2.2" fill="#000"/>
<circle cx="739.53" cy="298.84" r="2.2" fill="#000"/>
<circle cx="741.40" cy="286.37" r="2.2" fill="#000"/>
<circle cx="744.56" cy="287.30" r="2.2" fill="#000"/>
<circle cx="740.84" cy="293.63" r="2.2" fill="#000"/>
<circle cx="746.05" cy="294.19" r="2.2" fill="#000"/>
<circle cx="742.33" cy="300.70" r="2.2" fill="#000"/>
<circle cx="740.47" cy="304.42" r="2.2" fill="#000"/>
<circle cx="744.19" cy="302.00" r="2.2" fill="#000"/>
<circle cx="745.12" cy="306.28" r="2.2" fill="#000"/>
<circle cx="741.40" cy="326.74" r="2.2" fill="#000"/>
<circle cx="743.26" cy="333.81" r="2.2" fill="#000"/>
<circle cx="746.98" cy="311.86" r="2.2" fill="#000"/>
<circle cx="746.05" cy="324.33" r="2.2" fill="#000"/>
<circle cx="748.84" cy="323.02" r="2.2" fill="#000"/>
<circle cx="749.77" cy="317.44" r="2.2" fill="#000"/>
<circle cx="751.63" cy="301.63" r="2.2" fill="#000"/>
<circle cx="750.70" cy="308.14" r="2.2" fill="#000"/>
<circle cx="752.56" cy="312.42" r="2.2" fill="#000"/>
<circle cx="754.79" cy="296.60" r="2.2" fill="#000"/>
<circle cx="758.14" cy="292.70" r="2.2" fill="#000"/>
<circle cx="756.28" cy="308.14" r="2.2" fill="#000"/>
<circle cx="755.35" cy="322.09" r="2.2" fill="#000"/>
<circle cx="754.05" cy="328.05" r="2.2" fill="#000"/>
<circle cx="752.56" cy="334.74" r="2.2" fill="#000"/>
<circle cx="759.07" cy="307.21" r="2.2" fill="#000"/>
<circle cx="761.86" cy="308.70" r="2.2" fill="#000"/>
<circle cx="760.00" cy="314.28" r="2.2" fill="#000"/>
<circle cx="763.72" cy="309.07" r="2.2" fill="#000"/>
<circle cx="771.16" cy="295.49" r="2.2" fill="#000"/>
<circle cx="769.86" cy="302.00" r="2.2" fill="#000"/>
<circle cx="783.63" cy="299.77" r="2.2" fill="#000"/>
<circle cx="783.63" cy="314.65" r="2.2" fill="#000"/>
<circle cx="784.56" cy="331.02" r="2.2" fill="#000"/>
<circle cx="748.5" cy="350.8" r="2.2" fill="#000"/>
<text x="675.5" y="272.6" font-size="10.6" fill="#e0505a" font-weight="bold" font-family='"Liberation Sans", sans-serif' textLength="50.5" lengthAdjust="spacingAndGlyphs">R<tspan font-size="6.8" dy="-4">2</tspan><tspan dy="4">=0.06097</tspan></text>
<text x="0" y="0" font-size="9.168" fill="#e0505a" font-weight="bold" font-family='"Liberation Sans", sans-serif' transform="translate(676.000 281.999) scale(1.0275 1)" >P=0.0352</text>
<text x="648.30" y="314.40" font-size="9.4" fill="#222" font-weight="bold" text-anchor="middle" font-family='"Liberation Sans", sans-serif' textLength="95.80" lengthAdjust="spacingAndGlyphs" transform="rotate(-90 648.30 314.40)" >Relative circ_0000567</text>
<text x="659.60" y="314.60" font-size="9.4" fill="#222" font-weight="bold" text-anchor="middle" font-family='"Liberation Sans", sans-serif' textLength="48.80" lengthAdjust="spacingAndGlyphs" transform="rotate(-90 659.60 314.60)" >levels(T/N)</text>
<text x="676.60" y="381.00" font-size="9.4" fill="#222" font-weight="bold" text-anchor="start" font-family='"Liberation Sans", sans-serif' textLength="124.70" lengthAdjust="spacingAndGlyphs" >Relative miR-421 levels(T/N)</text>
</svg></body></html>
